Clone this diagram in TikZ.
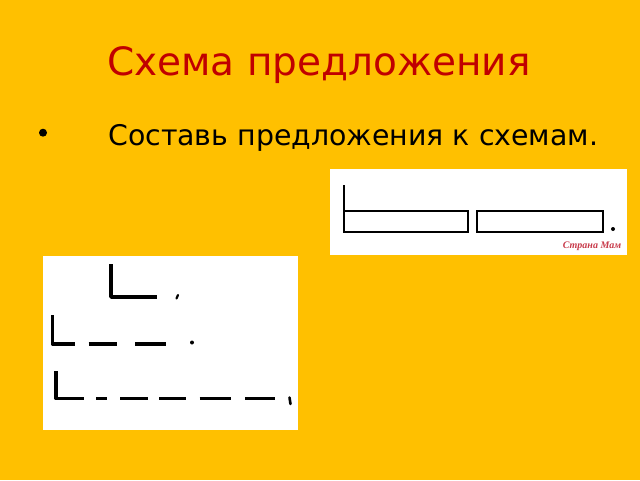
\documentclass[tikz,border=0pt]{standalone}
\usepackage{fontspec}
\setmainfont{DejaVu Sans}
\newfontfamily\wmfont{Liberation Serif}
\definecolor{bggold}{HTML}{FFC000}
\definecolor{titlered}{HTML}{C00000}
\definecolor{wmred}{HTML}{C83A4A}
\tikzset{
  scheme/.style={line width=3.5pt, line cap=butt, line join=round},
  thin scheme/.style={line width=2pt, line join=miter},
  panel/.style={fill=white, draw=none},
}
\begin{document}
\begin{tikzpicture}[x=1pt,y=-1pt]
\fill[bggold] (0,0) rectangle (640,480);
\useasboundingbox (0,0) rectangle (640,480);
% title
\node[anchor=base, text=titlered, font=\fontsize{39}{44}\selectfont, inner sep=0] (title) at (319,75) {Схема предложения};
% bullet
\node[circle, fill=black, minimum size=8pt, inner sep=0] (bullet) at (43,132.7) {};
\node[anchor=base west, font=\fontsize{28.4}{32}\selectfont, inner sep=0] (task) at (108,145) {Составь предложения к схемам.};
% top-right panel
\node[panel, anchor=north west, minimum width=297pt, minimum height=86pt, inner sep=0] (p1) at (330,169) {};
\draw[thin scheme] (344,185) -- (344,232);
\draw[thin scheme] (344,211) rectangle (468,232);
\draw[thin scheme] (477,211) rectangle (603,232);
\fill (613,229) circle (2pt);
\node[text=wmred, font=\wmfont\itshape\bfseries\fontsize{10}{11}\selectfont, inner sep=0] (wm) at (592,246) {Страна Мам};
% bottom-left panel
\node[panel, anchor=north west, minimum width=255pt, minimum height=174pt, inner sep=0] (p2) at (43,256) {};
% row 1
\draw[scheme] (111,264) -- (111,297) -- (157,297);
\draw[line width=2.2pt, line cap=round] (178,295) -- (176.5,298.5);
% row 2
\draw[scheme] (52.5,315) -- (52.5,344) -- (75,344);
\draw[scheme] (88.5,344) -- (116.5,344);
\draw[scheme] (135,344) -- (166,344);
\fill (192,342.5) circle (2pt);
% row 3
\draw[scheme] (56,371) -- (56,398.5) -- (84,398.5);
\draw[scheme] (96,398.5) -- (106.5,398.5);
\draw[scheme] (120,398.5) -- (148,398.5);
\draw[scheme] (159,398.5) -- (185.5,398.5);
\draw[scheme] (199.5,398.5) -- (231,398.5);
\draw[scheme] (245,398.5) -- (275,398.5);
\draw[line width=2.6pt, line cap=round] (289.5,397.5) -- (290.5,404);
\end{tikzpicture}
\end{document}
